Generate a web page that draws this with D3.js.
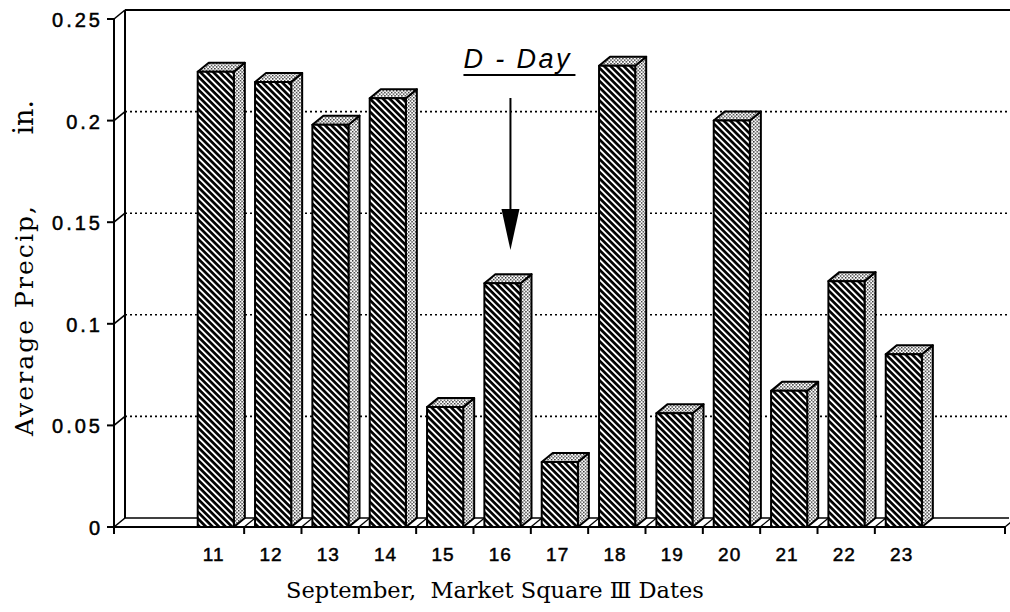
<!DOCTYPE html>
<html>
<head>
<meta charset="utf-8">
<script src="https://cdn.jsdelivr.net/npm/d3@7"></script>
<style>
  html, body { margin: 0; padding: 0; background: #fff; }
  svg { display: block; }
</style>
</head>
<body>
<svg id="chart" width="1010" height="612"></svg>
<script>
// Average precipitation by September date
const dates = ["11", "12", "13", "14", "15", "16", "17", "18", "19", "20", "21", "22", "23"];
const precip = [0.224, 0.219, 0.198, 0.211, 0.059, 0.120, 0.032, 0.227, 0.056, 0.200, 0.067, 0.121, 0.085];
const yTicks = [0, 0.05, 0.1, 0.15, 0.2, 0.25];
const yTickLabels = ["0", "0.05", "0.1", "0.15", "0.2", "0.25"];
const markerDate = "16";
const markerText = "D - Day";

const svg = d3.select("#chart");

// front plane geometry and depth offset of the 3-D box
const plotLeft = 114, plotRight = 1005, plotBase = 527, plotTop = 19;
const DX = 11, DY = -9;

const x = d3.scaleBand().domain(dates).range([plotLeft, plotRight])
  .paddingInner(0).paddingOuter(1.27);
const y = d3.scaleLinear().domain([0, 0.25]).range([plotBase, plotTop]);

// fill patterns: hatched front faces, stippled side/top faces
const defs = svg.append("defs");
const hatch = defs.append("pattern").attr("id", "hatch")
  .attr("patternUnits", "userSpaceOnUse").attr("width", 4.6).attr("height", 10)
  .attr("patternTransform", "rotate(-45)");
hatch.append("rect").attr("width", 4.6).attr("height", 10).attr("fill", "#000");
hatch.append("rect").attr("x", 0).attr("width", 1.9).attr("height", 10).attr("fill", "#fff");

const dots = defs.append("pattern").attr("id", "dots")
  .attr("patternUnits", "userSpaceOnUse").attr("width", 3.4).attr("height", 3.4);
dots.append("rect").attr("width", 3.4).attr("height", 3.4).attr("fill", "#fff");
dots.append("rect").attr("x", 0).attr("y", 0).attr("width", 1.4).attr("height", 1.4).attr("fill", "#222");
dots.append("rect").attr("x", 1.7).attr("y", 1.7).attr("width", 1.4).attr("height", 1.4).attr("fill", "#222");

const frame = svg.append("g").attr("fill", "none").attr("stroke", "#000");

// back wall grid lines (dotted)
frame.selectAll("line.grid")
  .data(yTicks.filter(t => t > 0 && t < 0.25))
  .join("line").attr("class", "grid")
  .attr("x1", plotLeft + DX).attr("x2", 1010)
  .attr("y1", d => y(d) + DY).attr("y2", d => y(d) + DY)
  .attr("stroke-width", 1.6).attr("stroke-dasharray", "2,3");

// box outline: top edge, back wall, floor
frame.append("line").attr("x1", plotLeft + DX).attr("x2", 1010)
  .attr("y1", y(0.25) + DY).attr("y2", y(0.25) + DY).attr("stroke-width", 2);
frame.append("line").attr("x1", plotLeft + DX).attr("x2", plotLeft + DX)
  .attr("y1", y(0.25) + DY).attr("y2", y(0) + DY).attr("stroke-width", 2);
frame.append("line").attr("x1", plotLeft + DX).attr("x2", plotRight + 4)
  .attr("y1", y(0) + DY).attr("y2", y(0) + DY).attr("stroke-width", 1.5);
frame.append("line").attr("x1", plotLeft).attr("x2", plotLeft)
  .attr("y1", y(0.25)).attr("y2", y(0)).attr("stroke-width", 2);
frame.append("line").attr("x1", plotLeft - 7).attr("x2", plotRight)
  .attr("y1", y(0)).attr("y2", y(0)).attr("stroke-width", 2);

// y ticks with their diagonal run to the back wall
const yt = frame.selectAll("g.ytick").data(yTicks).join("g").attr("class", "ytick");
yt.append("line").attr("x1", plotLeft - 7).attr("x2", plotLeft)
  .attr("y1", d => y(d)).attr("y2", d => y(d)).attr("stroke-width", 2);
yt.append("line").attr("x1", plotLeft).attr("x2", plotLeft + DX)
  .attr("y1", d => y(d)).attr("y2", d => y(d) + DY).attr("stroke-width", 1.6);

// x ticks between categories plus the two ends, with floor diagonals
const xTickPos = [plotLeft].concat(dates.slice(1).map(d => x(d)), [plotRight]);
frame.selectAll("line.xtick").data(xTickPos).join("line").attr("class", "xtick")
  .attr("x1", d => d).attr("x2", d => d)
  .attr("y1", plotBase).attr("y2", plotBase + 7).attr("stroke-width", 2);
frame.selectAll("line.floor").data(xTickPos.slice(1)).join("line").attr("class", "floor")
  .attr("x1", d => d).attr("x2", d => d + DX)
  .attr("y1", plotBase).attr("y2", plotBase + DY).attr("stroke-width", 1.3);

// 3-D bars
const bw = x.bandwidth() * 0.63;
const boff = x.bandwidth() * 0.19;
const bars = svg.append("g").selectAll("g.bar")
  .data(dates.map((d, i) => ({ d, v: precip[i] })))
  .join("g").attr("class", "bar")
  .attr("stroke", "#000").attr("stroke-width", 2).attr("stroke-linejoin", "round");

bars.append("path").attr("fill", "url(#dots)")
  .attr("d", p => {
    const x0 = x(p.d) + boff, x1 = x0 + bw, yv = y(p.v);
    return `M${x1},${yv}L${x1 + DX},${yv + DY}L${x1 + DX},${plotBase + DY}L${x1},${plotBase}Z`;
  });
bars.append("path").attr("fill", "url(#dots)")
  .attr("d", p => {
    const x0 = x(p.d) + boff, x1 = x0 + bw, yv = y(p.v);
    return `M${x0},${yv}L${x0 + DX},${yv + DY}L${x1 + DX},${yv + DY}L${x1},${yv}Z`;
  });
bars.append("rect").attr("fill", "url(#hatch)")
  .attr("x", p => x(p.d) + boff).attr("width", bw)
  .attr("y", p => y(p.v)).attr("height", p => plotBase - y(p.v));

// axis tick labels
const sans = "'Liberation Sans', Arial, sans-serif";
svg.append("g").selectAll("text").data(yTicks).join("text")
  .attr("x", plotLeft - 11).attr("y", d => y(d) + 8)
  .attr("text-anchor", "end").attr("font-family", sans)
  .attr("font-size", 20).attr("letter-spacing", 3)
  .attr("stroke", "#000").attr("stroke-width", 0.5)
  .text((d, i) => yTickLabels[i]);

svg.append("g").selectAll("text").data(dates).join("text")
  .attr("x", d => x(d) + x.bandwidth() * 0.45 + 1).attr("y", 561)
  .attr("text-anchor", "middle").attr("font-family", sans)
  .attr("font-size", 19).attr("letter-spacing", 1)
  .attr("stroke", "#000").attr("stroke-width", 0.5)
  .text(d => d);

// axis titles
const serif = "'DejaVu Serif', 'Liberation Serif', serif";
const yTitle = svg.append("g").attr("transform", "translate(33,0) rotate(-90)")
  .attr("font-family", serif).attr("font-size", 25);
yTitle.append("text")
  .attr("x", -436).attr("y", 0)
  .attr("textLength", 230).attr("lengthAdjust", "spacing")
  .text("Average Precip,");
yTitle.append("text")
  .attr("x", -100).attr("y", 0)
  .attr("text-anchor", "end").attr("font-size", 27)
  .text("in.");

svg.append("text")
  .attr("x", 495).attr("y", 598)
  .attr("text-anchor", "middle").attr("font-family", serif)
  .attr("font-size", 22.5)
  .attr("xml:space", "preserve")
  .text("September,  Market Square \u2162 Dates");

// D-Day marker
const mx = x(markerDate) + boff + bw / 2 + 8;
svg.append("text")
  .attr("x", mx + 6).attr("y", 68)
  .attr("text-anchor", "middle").attr("font-family", sans)
  .attr("font-size", 27).attr("font-style", "italic")
  .attr("textLength", 106).attr("lengthAdjust", "spacing")
  .attr("xml:space", "preserve")
  .text(markerText);
svg.append("line").attr("x1", mx - 47).attr("x2", mx + 65)
  .attr("y1", 75).attr("y2", 75).attr("stroke", "#000").attr("stroke-width", 2);
svg.append("line").attr("x1", mx).attr("x2", mx)
  .attr("y1", 98).attr("y2", 212).attr("stroke", "#000").attr("stroke-width", 2);
svg.append("path")
  .attr("d", `M${mx - 9},209L${mx + 9},209L${mx},250Z`)
  .attr("fill", "#000");
</script>
</body>
</html>
